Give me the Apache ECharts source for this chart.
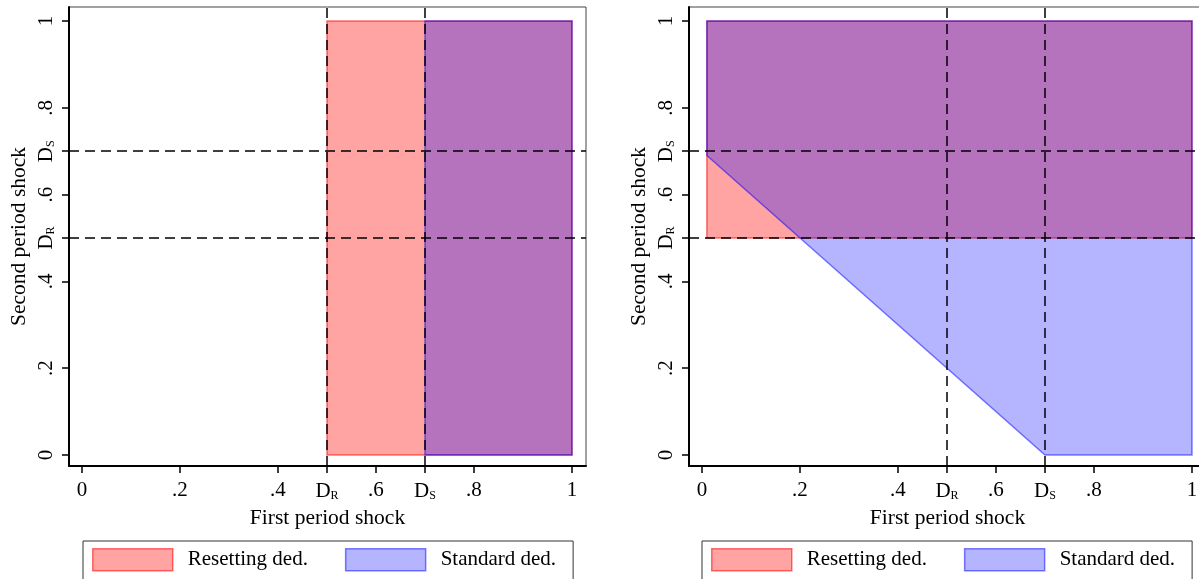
<!DOCTYPE html>
<html>
<head>
<meta charset="utf-8">
<script src="https://cdn.jsdelivr.net/npm/echarts@6/dist/echarts.min.js"></script>
<style>
html,body{margin:0;padding:0;background:#fff;}
#chart{width:1199px;height:579px;}
</style>
</head>
<body>
<div id="chart"></div>
<script>
// ---- data ----
const tickValues = [0, 0.2, 0.4, 0.5, 0.6, 0.7, 0.8, 1];
const tickLabels = ['0', '.2', '.4', 'D_R', '.6', 'D_S', '.8', '1'];
const DR = 0.5;
const DS = 0.7;
const seriesNames = ['Resetting ded.', 'Standard ded.'];
const xTitle = 'First period shock';
const yTitle = 'Second period shock';
// panel 1 (left) regions
const leftReset = [[0.5, 0], [1, 0], [1, 1], [0.5, 1]];
const leftStd = [[0.7, 0], [1, 0], [1, 1], [0.7, 1]];
// panel 2 (right) regions
const rightReset = [[0.01, 0.5], [1, 0.5], [1, 1], [0.01, 1]];
const rightStd = [[0.01, 0.69], [0.7, 0], [1, 0], [1, 1], [0.01, 1]];

// ---- styling ----
const FONT = 'Liberation Serif';
const RED_FILL = 'rgba(255,0,0,0.36)';
const RED_LINE = 'rgba(255,0,0,0.55)';
const BLUE_FILL = 'rgba(0,0,255,0.29)';
const BLUE_LINE = 'rgba(0,0,255,0.50)';

function fmt(v) {
  const i = tickValues.findIndex(t => Math.abs(t - v) < 1e-9);
  const l = i >= 0 ? tickLabels[i] : '';
  if (l.startsWith('D_')) return '{d|D}{s|' + l.slice(2) + '}';
  return '{n|' + l + '}';
}
const rich = {
  n: {fontFamily: FONT, fontSize: 21, color: '#000'},
  d: {fontFamily: FONT, fontSize: 21, color: '#000'},
  s: {fontFamily: FONT, fontSize: 12, color: '#000', padding: [10, 0, 0, 0]}
};

const chart = echarts.init(document.getElementById('chart'), null, {renderer: 'canvas'});

const grids = [
  {left: 69, top: 7, width: 517, height: 459},
  {left: 689, top: 7, width: 517, height: 459}
];

function xAxisFor(gi) {
  return {
    type: 'value', gridIndex: gi, min: -0.0265, max: 1.0286,
    name: xTitle, nameLocation: 'middle', nameGap: 39,
    nameTextStyle: {fontFamily: FONT, fontSize: 21.5, color: '#000'},
    axisLine: {onZero: false, lineStyle: {color: '#000', width: 2}},
    axisTick: {show: true, length: 7, customValues: tickValues, lineStyle: {color: '#000', width: 1.5}},
    axisLabel: {customValues: tickValues, formatter: fmt, rich: rich, margin: 14, color: '#000'},
    splitLine: {show: false}
  };
}
function yAxisFor(gi) {
  return {
    type: 'value', gridIndex: gi, min: -0.0253, max: 1.0323,
    name: yTitle, nameLocation: 'middle', nameGap: 39, nameRotate: 90,
    nameTextStyle: {fontFamily: FONT, fontSize: 21.5, color: '#000'},
    axisLine: {onZero: false, lineStyle: {color: '#000', width: 2}},
    axisTick: {show: true, length: 7, customValues: tickValues, lineStyle: {color: '#000', width: 1.5}},
    axisLabel: {customValues: tickValues, formatter: fmt, rich: rich, margin: 12, rotate: 90, color: '#000'},
    splitLine: {show: false}
  };
}

function polySeries(name, pts, gi, fill, line, z) {
  return {
    name: name, type: 'custom', xAxisIndex: gi, yAxisIndex: gi, z: z,
    silent: true,
    itemStyle: {color: fill, borderColor: line},
    data: pts,
    renderItem: function (params, api) {
      if (params.dataIndex !== 0) return null;
      const p = pts.map(q => api.coord(q));
      return {type: 'polygon', shape: {points: p},
        style: {fill: fill, stroke: line, lineWidth: 1.5}};
    }
  };
}
function dashSeries(gi) {
  return {
    type: 'line', xAxisIndex: gi, yAxisIndex: gi, data: [], z: 1, silent: true,
    markLine: {
      symbol: 'none', silent: true, label: {show: false},
      lineStyle: {type: [10, 6], color: '#000', width: 1.5},
      data: [{xAxis: DR}, {xAxis: DS}, {yAxis: DR}, {yAxis: DS}]
    }
  };
}

function legendFor(left) {
  return {
    left: left, top: 541, orient: 'horizontal',
    borderColor: '#333', borderWidth: 1,
    padding: [7, 17, 14, 9],
    itemWidth: 80, itemHeight: 22, itemGap: 37,
    icon: 'rect',
    textStyle: {fontFamily: FONT, fontSize: 21, color: '#000', padding: [0, 0, 0, 10]},
    data: [
      {name: seriesNames[0], itemStyle: {color: RED_FILL, borderColor: RED_LINE, borderWidth: 1.5}},
      {name: seriesNames[1], itemStyle: {color: BLUE_FILL, borderColor: BLUE_LINE, borderWidth: 1.5}}
    ],
    selectedMode: false
  };
}

const option = {
  animation: false,
  backgroundColor: '#fff',
  grid: grids.map(g => Object.assign({show: true, borderColor: '#444', borderWidth: 1,
    backgroundColor: 'transparent', outerBoundsMode: 'none', containLabel: false}, g)),
  xAxis: [xAxisFor(0), xAxisFor(1)],
  yAxis: [yAxisFor(0), yAxisFor(1)],
  legend: [legendFor(83), legendFor(702)],
  series: [
    dashSeries(0),
    polySeries(seriesNames[0], leftReset, 0, RED_FILL, RED_LINE, 2),
    polySeries(seriesNames[1], leftStd, 0, BLUE_FILL, BLUE_LINE, 3),
    dashSeries(1),
    polySeries(seriesNames[0], rightReset, 1, RED_FILL, RED_LINE, 2),
    polySeries(seriesNames[1], rightStd, 1, BLUE_FILL, BLUE_LINE, 3)
  ]
};
chart.setOption(option);
</script>
</body>
</html>
